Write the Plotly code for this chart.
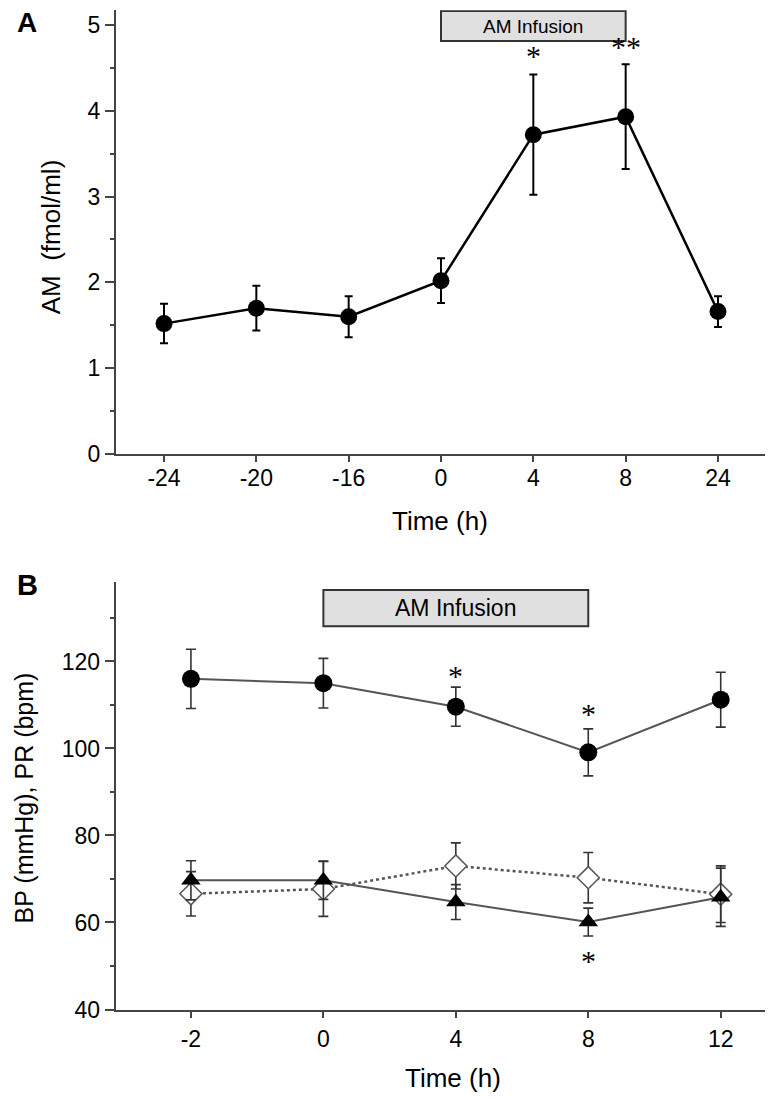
import plotly.graph_objects as go

# ---------------- data ----------------
a_times = ["-24", "-20", "-16", "0", "4", "8", "24"]
a_am = [1.52, 1.70, 1.60, 2.02, 3.72, 3.93, 1.66]
a_am_err = [0.23, 0.26, 0.24, 0.26, 0.70, 0.61, 0.18]

b_times = ["-2", "0", "4", "8", "12"]
b_pr = [116.0, 115.0, 109.6, 99.1, 111.2]
b_pr_err = [6.8, 5.7, 4.5, 5.4, 6.3]
b_bp_tri = [69.7, 69.7, 64.7, 60.1, 65.8]
b_bp_tri_err = [4.5, 4.4, 4.0, 3.2, 6.7]
b_bp_dia = [66.6, 67.7, 73.0, 70.3, 66.5]
b_bp_dia_err = [5.1, 6.3, 5.3, 5.8, 6.5]

W, H = 773, 1098
FONT = "Liberation Sans, Arial, sans-serif"
STAR = "Liberation Serif, Times New Roman, serif"
AX = "#444444"

def px(x):
    return x / W

def py(y):
    return 1 - y / H

fig = go.Figure()

# Panel A
fig.add_trace(go.Scatter(
    x=a_times, y=a_am, xaxis="x", yaxis="y", mode="lines+markers",
    line=dict(color="black", width=2.5),
    marker=dict(symbol="circle", size=17, color="black"),
    error_y=dict(type="data", array=a_am_err, visible=True, color="black",
                 thickness=2, width=4),
    showlegend=False, cliponaxis=False))

# Panel B
fig.add_trace(go.Scatter(
    x=b_times, y=b_bp_dia, xaxis="x2", yaxis="y2", mode="lines+markers",
    line=dict(color="#555555", width=2.5, dash="dot"),
    marker=dict(symbol="diamond", size=17, color="white",
                line=dict(color="#555555", width=1.5)),
    error_y=dict(type="data", array=b_bp_dia_err, visible=True, color="#333333",
                 thickness=1.6, width=5),
    showlegend=False, cliponaxis=False))
fig.add_trace(go.Scatter(
    x=b_times, y=b_bp_tri, xaxis="x2", yaxis="y2", mode="lines+markers",
    line=dict(color="#555555", width=2),
    marker=dict(symbol="triangle-up", size=17, color="black"),
    error_y=dict(type="data", array=b_bp_tri_err, visible=True, color="#333333",
                 thickness=1.6, width=5),
    showlegend=False, cliponaxis=False))
fig.add_trace(go.Scatter(
    x=b_times, y=b_pr, xaxis="x2", yaxis="y2", mode="lines+markers",
    line=dict(color="#555555", width=2),
    marker=dict(symbol="circle", size=18, color="black"),
    error_y=dict(type="data", array=b_pr_err, visible=True, color="#333333",
                 thickness=1.6, width=5),
    showlegend=False, cliponaxis=False))

axis_common = dict(showline=True, linecolor=AX, linewidth=2, ticks="outside",
                   tickcolor=AX, tickwidth=2, showgrid=False, zeroline=False,
                   tickfont=dict(family=FONT, size=23, color="black"))

fig.update_layout(
    width=W, height=H, margin=dict(l=0, r=0, t=0, b=0),
    paper_bgcolor="white", plot_bgcolor="white",
    font=dict(family=FONT, color="black"),
    xaxis=dict(axis_common, type="category", domain=[px(108), px(758)],
               range=[-0.52, 6.52], anchor="y", ticklen=6, ticklabelstandoff=-4),
    yaxis=dict(axis_common, domain=[py(451.5), py(2.2)], range=[0, 5.17],
               anchor="x", tickvals=[0, 1, 2, 3, 4, 5], ticklen=9,
               minor=dict(dtick=0.5, tick0=0, ticklen=4, ticks="outside",
                          tickcolor=AX, tickwidth=2, showgrid=False)),
    xaxis2=dict(axis_common, type="category", domain=[px(107.7), px(771)],
                range=[-0.568, 4.44], anchor="y2", ticklen=6, ticklabelstandoff=2),
    yaxis2=dict(axis_common, domain=[py(1013.5), py(580.7)], range=[40, 138.3],
                anchor="x2", tickvals=[40, 60, 80, 100, 120], ticklen=9,
                minor=dict(dtick=10, tick0=40, ticklen=4, ticks="outside",
                           tickcolor=AX, tickwidth=2, showgrid=False)),
)

# Infusion boxes (x given as category indices: A "0"=3, "8"=5; B "0"=1, "8"=3)
fig.add_shape(type="rect", xref="x", yref="y", x0=3, x1=5, y0=4.81, y1=5.16,
              fillcolor="#e0e0e0", line=dict(color="#333333", width=2))
fig.add_shape(type="rect", xref="x2", yref="y2", x0=1, x1=3, y0=128.1, y1=136.4,
              fillcolor="#e0e0e0", line=dict(color="#333333", width=2))

ann = []
ann.append(dict(xref="x", yref="y", x=4, y=4.985, text="AM Infusion",
                showarrow=False, font=dict(family=FONT, size=19, color="black")))
ann.append(dict(xref="x2", yref="y2", x=2, y=132.25, text="AM Infusion",
                showarrow=False, font=dict(family=FONT, size=23, color="black")))

# Asterisks (x as category index)
star_font = dict(family=STAR, size=30, color="black")
ann.append(dict(xref="x", yref="y", x=4, y=4.56, text="*", showarrow=False,
                yshift=7, font=star_font))
ann.append(dict(xref="x", yref="y", x=5, y=4.66, text="**", showarrow=False,
                yshift=7, font=star_font))
ann.append(dict(xref="x2", yref="y2", x=2, y=117.4, text="*", showarrow=False,
                yshift=-3, font=star_font))
ann.append(dict(xref="x2", yref="y2", x=3, y=108.8, text="*", showarrow=False,
                yshift=-3, font=star_font))
ann.append(dict(xref="x2", yref="y2", x=3, y=51.9, text="*", showarrow=False,
                yshift=-3, font=star_font))

# Titles
ann.append(dict(xref="paper", yref="paper", x=px(43), y=py(232), text="AM  (fmol/ml)",
                textangle=-90, showarrow=False, xanchor="center", yanchor="middle",
                font=dict(family=FONT, size=26, color="black")))
ann.append(dict(xref="paper", yref="paper", x=px(16), y=py(800), text="BP (mmHg), PR (bpm)",
                textangle=-90, showarrow=False, xanchor="center", yanchor="middle",
                font=dict(family=FONT, size=25, color="black")))
ann.append(dict(xref="paper", yref="paper", x=px(432), y=py(519), text="Time (h)",
                showarrow=False, xanchor="center", yanchor="middle",
                font=dict(family=FONT, size=26, color="black")))
ann.append(dict(xref="paper", yref="paper", x=px(445), y=py(1083), text="Time (h)",
                showarrow=False, xanchor="center", yanchor="middle",
                font=dict(family=FONT, size=26, color="black")))
ann.append(dict(xref="paper", yref="paper", x=px(19), y=1, text="<b>A</b>",
                showarrow=False, xanchor="center", yanchor="top", yshift=2,
                borderpad=0, font=dict(family=FONT, size=28, color="black")))
ann.append(dict(xref="paper", yref="paper", x=px(19), y=py(584), text="<b>B</b>",
                showarrow=False, xanchor="center", yanchor="middle",
                font=dict(family=FONT, size=29, color="black")))

fig.update_layout(annotations=ann)

fig.write_html("out.html")
